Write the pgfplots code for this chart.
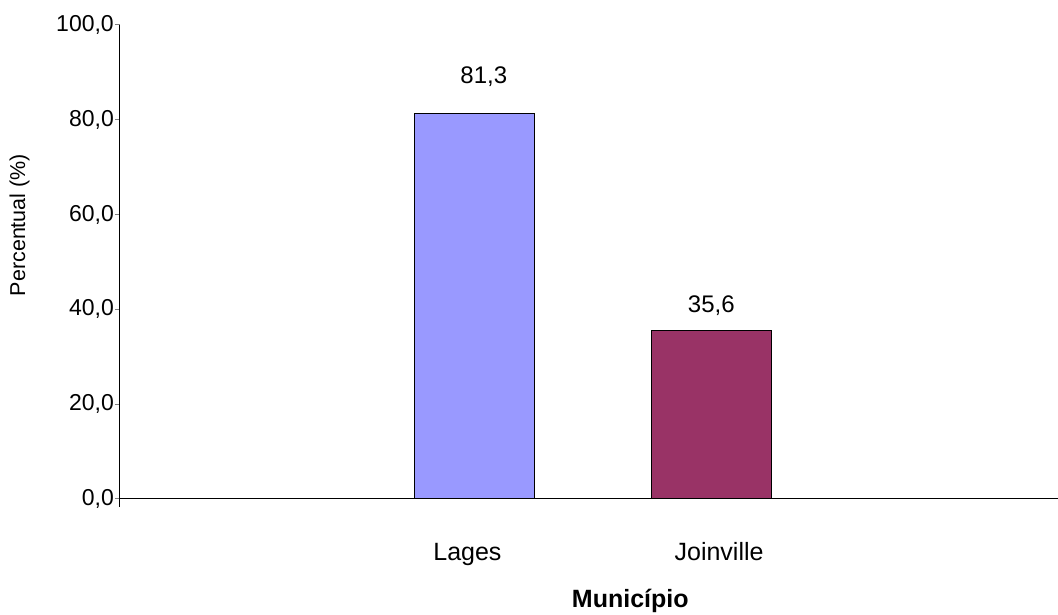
\documentclass[border=0pt]{standalone}
\usepackage{fontspec}
\setmainfont{Liberation Sans}
\usepackage{pgfplots}
\pgfplotsset{compat=1.18}
\definecolor{lagesc}{HTML}{9999FF}
\definecolor{joinc}{HTML}{993366}
\begin{document}
\begin{tikzpicture}
\path[use as bounding box] (-120pt,-116pt) rectangle (938pt,499pt);
\begin{axis}[
  at={(0,0)}, anchor=south west,
  scale only axis, width=938pt, height=474pt,
  xmin=0, xmax=3.966, ymin=0, ymax=100,
  axis x line=bottom, axis y line=left,
  axis line style={-, line width=1pt},
  clip=false,
  xtick={1.469,2.533}, xticklabels={Lages,Joinville},
  xtick style={draw=none},
  xticklabel style={anchor=base, yshift=-57pt, font=\fontsize{25}{29}\selectfont},
  ytick={0,20,40,60,80,100},
  tick align=outside,
  ytick style={line width=1pt},
  major tick length=5pt,
  yticklabel style={font=\fontsize{23}{27}\selectfont, inner sep=1pt},
  /pgf/number format/fixed,
  /pgf/number format/precision=1,
  /pgf/number format/zerofill,
  /pgf/number format/use comma,
  /pgf/number format/assume math mode=true,
  ylabel={Percentual (\%)},
  ylabel style={at={(axis description cs:-0.107,0.578)}, anchor=center, rotate=0, font=\fontsize{21.5}{25}\selectfont},
  xlabel={\textbf{Município}},
  xlabel style={at={(axis description cs:0.544,-0.228)}, anchor=base, font=\fontsize{25}{29}\selectfont},
  nodes near coords,
  nodes near coords style={font=\fontsize{24}{28}\selectfont, anchor=center},
]
\addplot[ybar, bar width=120pt, bar shift=0pt, fill=lagesc, draw=black, line width=1pt,
  nodes near coords style={yshift=37pt, xshift=9pt}] coordinates {(1.5,81.3)};
\addplot[ybar, bar width=120pt, bar shift=0pt, fill=joinc, draw=black, line width=1pt,
  nodes near coords style={yshift=25pt}] coordinates {(2.5,35.6)};
\draw[line width=1pt] (axis cs:0,0) -- ++(0,-8pt);
\end{axis}
\end{tikzpicture}
\end{document}
